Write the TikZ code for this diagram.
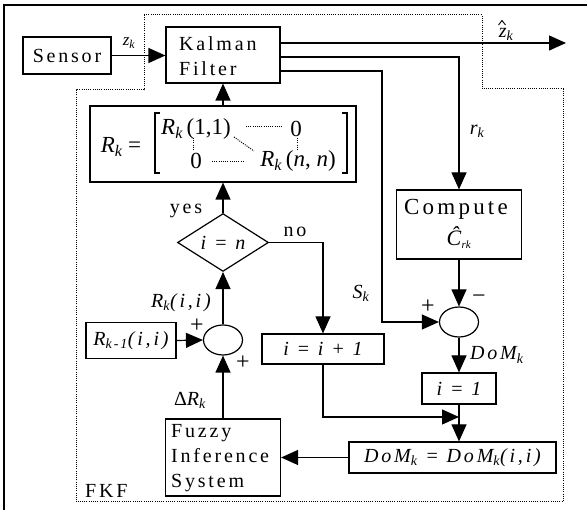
\documentclass[tikz,border=0pt]{standalone}
\usepackage{fontspec}
\setmainfont{Liberation Serif}
\newfontfamily\lsp[LetterSpace=14]{Liberation Serif}
\usetikzlibrary{arrows.meta,shapes.geometric}
\newcommand\sbk[1]{\textsubscript{\itshape #1}}
\begin{document}
\begin{tikzpicture}[x=1pt,y=-1pt,
  box/.style={draw,line width=1.2pt,inner sep=0pt,rectangle},
  sumnode/.style={draw,ellipse,line width=1.2pt,inner sep=0pt,minimum width=39pt,minimum height=30pt},
  con/.style={line width=1.2pt},
  arr/.style={con,-{Triangle[length=17pt,width=15pt]}},
  txt/.style={inner sep=0pt,font=\lsp\fontsize{20}{25}\selectfont},
  sgn/.style={inner sep=0pt,font=\fontsize{24}{26}\selectfont},
  mtxt/.style={inner sep=0pt,font=\lsp\itshape\fontsize{20}{25}\selectfont},
  mat/.style={inner sep=0pt,font=\fontsize{23}{26}\selectfont},
  dots/.style={line width=1pt,dash pattern=on 1pt off 1.2pt},
  frame/.style={line width=1.3pt}
]
\useasboundingbox (0,0) rectangle (587,510);
\begin{scope}
\clip (0,0) rectangle (587,510);
\draw[frame] (4,600) -- (4,5) -- (700,5);
\end{scope}
% FKF dotted boundary
\draw[dots] (144,15) -- (482,15) -- (482,89) -- (563,89) -- (563,502) -- (76,502) -- (76,90) -- (144,90) -- cycle;

% boxes
\node[box,minimum width=88pt,minimum height=37pt,txt] (sensor) at (67,55.5) {Sensor};
\node[box,minimum width=114pt,minimum height=56pt] (kf) at (223,55) {};
\node[txt,align=left,anchor=west] (kftxt) at (179,56) {Kalman\\Filter};
\node[box,minimum width=266pt,minimum height=76pt] (matbox) at (223,144) {};
\node[box,minimum width=125pt,minimum height=69pt] (comp) at (459,224.5) {};
\node[sumnode] (sumR) at (459,322) {};
\node[box,minimum width=74pt,minimum height=31pt,mtxt] (ione) at (459,388.5) {i = 1};
\node[box,minimum width=207pt,minimum height=31pt,mtxt] (dom) at (452.5,457.5) {DoM\sbk{k} = DoM\sbk{k}(i,i)};
\node[box,minimum width=115pt,minimum height=77pt] (fis) at (223,457.5) {};
\node[txt,align=left,anchor=west] (fistxt) at (171,458) {Fuzzy\\Inference\\System};
\node[sumnode] (sumL) at (223,340) {};
\node[box,minimum width=90pt,minimum height=36pt,mtxt] (rkm) at (131,340.5) {R\sbk{k-1}(i,i)};
\node[draw,diamond,line width=1.2pt,inner sep=0pt,minimum width=91pt,minimum height=51pt,mtxt] (dia) at (223,242.5) {i = n};
\node[box,minimum width=122pt,minimum height=30pt,mtxt] (iinc) at (323,349) {i = i + 1};

% compute box contents
\node[txt,font=\lsp\fontsize{23}{26}\selectfont] (comptxt) at (456,209) {Compute};
\node[inner sep=0pt,font=\fontsize{22}{24}\selectfont] (chat) at (459,238) {\textit{Ĉ}\textsubscript{\fontsize{11}{12}\selectfont\itshape rk}};

% matrix contents
\node[mat] (meq) at (121,147) {\textit{R}\textsubscript{\itshape k} =};
\node[mat] (m11) at (196,129) {\textit{R}\textsubscript{\itshape k}\,(1,1)};
\node[mat] (m12) at (296,129) {0};
\node[mat] (m21) at (196,161) {0};
\node[mat] (m22) at (298,161) {\textit{R}\textsubscript{\itshape k}\,(\textit{n}, \textit{n})};
\draw[dots] (246,127) -- (282,127);
\draw[dots] (212,162) -- (245,162);
\draw[dots] (193,138) -- (193,151);
\draw[dots] (297,138) -- (297,151);
\draw[dots] (234,137) -- (254,151);
\draw[line width=1.1pt] (160,113) -- (155,113) -- (155,173) -- (160,173);
\draw[line width=1.1pt] (342,113) -- (347,113) -- (347,173) -- (342,173);

% connectors
\coordinate (zout) at (566,43);
\coordinate (rturn) at (459,57);
\coordinate (sturn) at (382,71);
\coordinate (join) at (459,417);
\draw[arr] (sensor.east) -- (sensor.east -| kf.west);
\draw[arr] (kf.east |- zout) -- (zout);
\draw[arr] (kf.east |- rturn) -- (rturn) -- (comp.north);
\draw[arr] (kf.east |- sturn) -- (sturn) -- (sturn |- sumR) -- (sumR.west);
\draw[arr] (matbox.north) -- (kf.south);
\draw[arr] (comp.south) -- (sumR.north);
\draw[arr] (sumR.south) -- (ione.north);
\draw[arr] (ione.south) -- (ione.south |- dom.north);
\draw[arr] (iinc.south) |- (join);
\draw[arr] (dom.west) -- (fis.east);
\draw[arr] (fis.north) -- (sumL.south);
\draw[arr] (rkm.east) -- (sumL.west);
\draw[arr] (sumL.north) -- (dia.south);
\draw[arr] (dia.north) -- (matbox.south);
\draw[arr] (dia.east) -| (iinc.north);

% labels
\node[mtxt,font=\lsp\itshape\fontsize{17}{20}\selectfont] (lz) at (129,43) {z\sbk{k}};
\node[mtxt] (lzh) at (506,34) {z\sbk{k}};
\draw[line width=0.9pt] (498.5,25) -- (502,20.5) -- (505.5,25);
\node[mtxt] (lr) at (477,131) {r\sbk{k}};
\node[mtxt] (ls) at (361,293) {S\sbk{k}};
\node[sgn] (pR) at (428,307) {+};
\node[sgn] (mR) at (479,299) {−};
\node[mtxt,anchor=west] (ldom) at (470,355) {DoM\sbk{k}};
\node[mtxt] (lrk) at (181,303) {R\sbk{k}(i,i)};
\node[sgn] (pL1) at (197,326) {+};
\node[sgn] (pL2) at (243,363) {+};
\node[mtxt] (ldr) at (190,400) {\upshape Δ\itshape R\sbk{k}};
\node[txt] (lyes) at (186,211) {yes};
\node[txt] (lno) at (295,232) {no};
\node[txt,anchor=west] (lfkf) at (85,491) {FKF};
\end{tikzpicture}
\end{document}
